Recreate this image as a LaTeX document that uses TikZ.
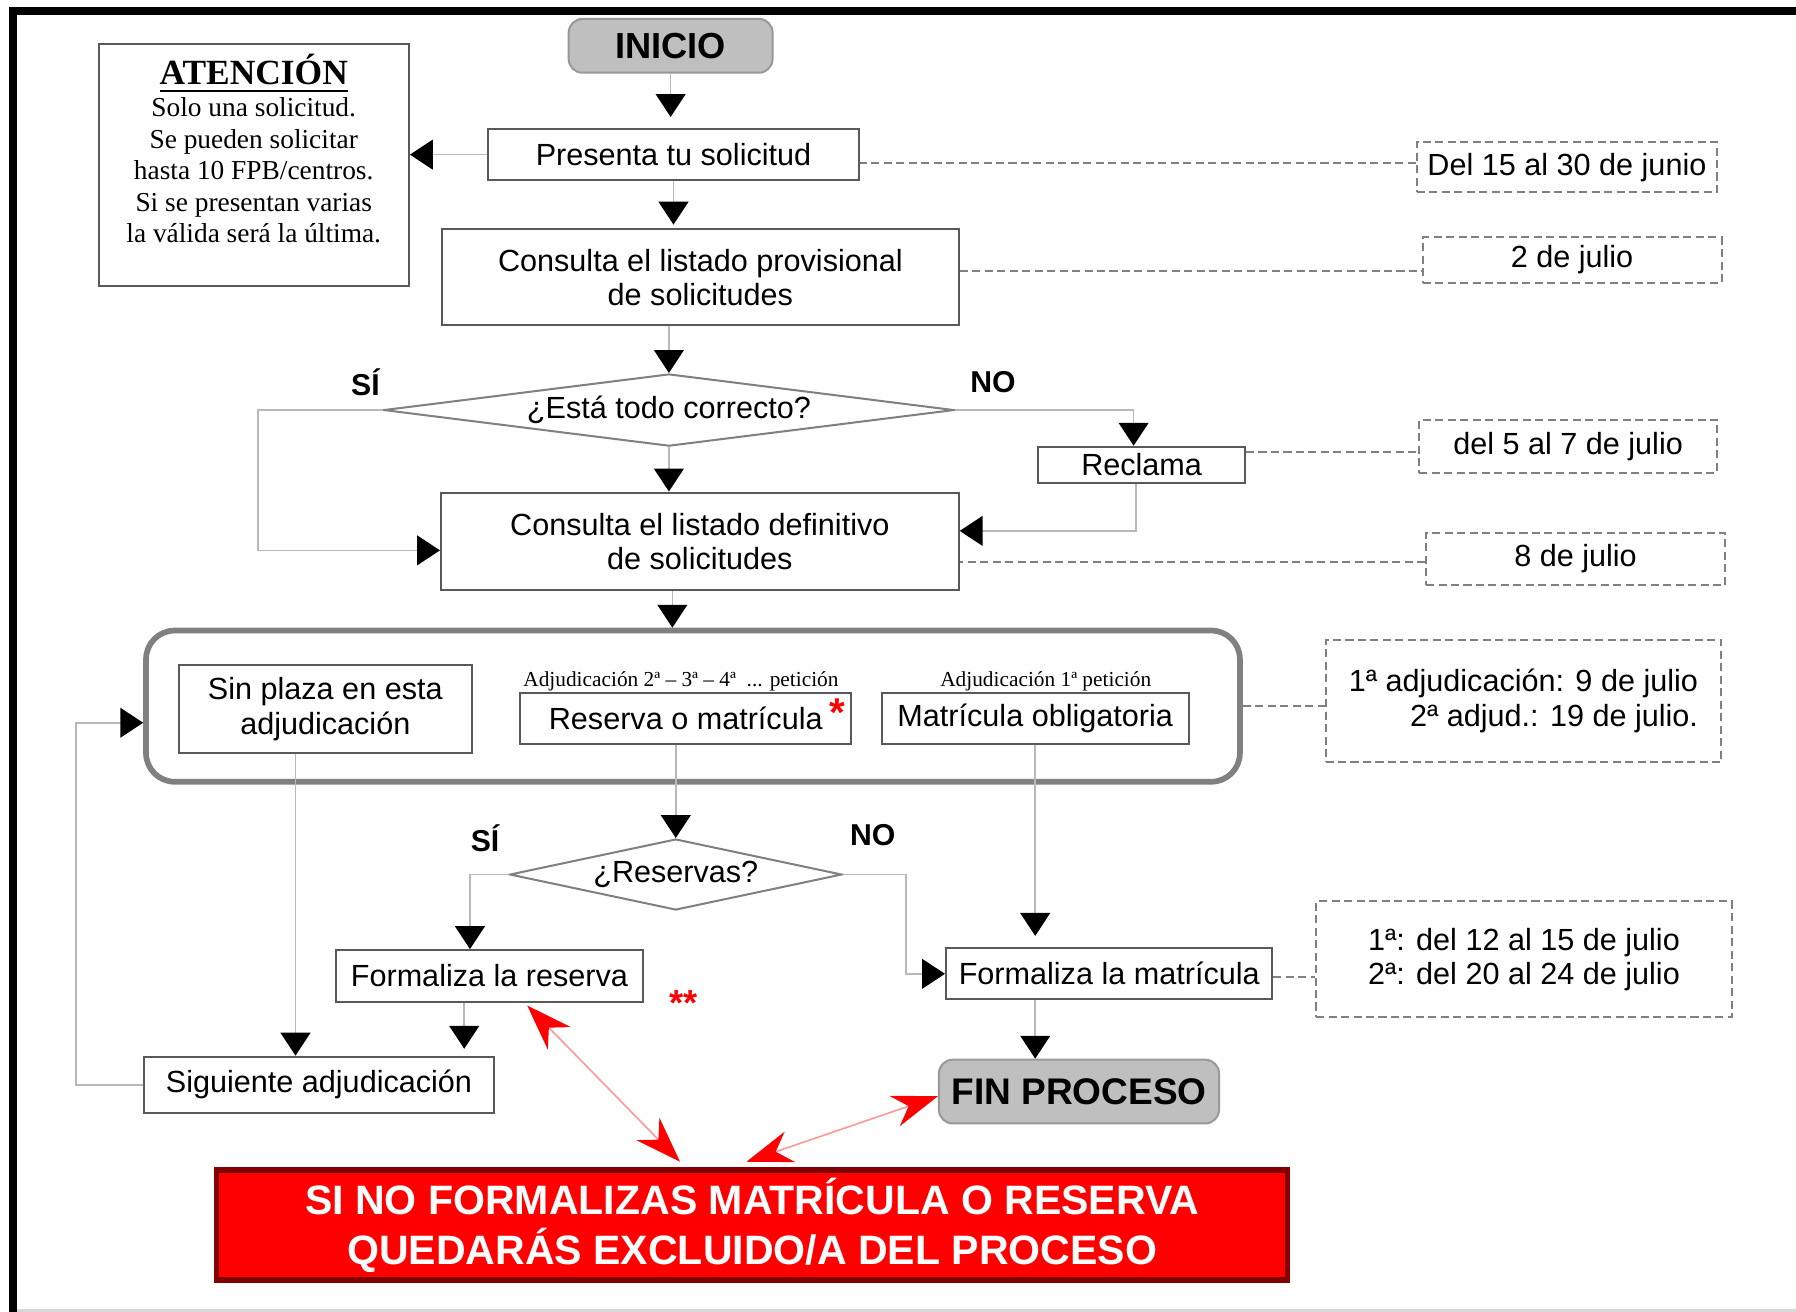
\documentclass[tikz,border=0pt]{standalone}
\usepackage{fontspec}
\setmainfont{Liberation Serif}
\setsansfont{Liberation Sans}
\usetikzlibrary{shapes.geometric,arrows.meta}

\begin{document}
\begin{tikzpicture}[x=0.1mm,y=-0.1mm]
    \tikzstyle{every node}=[font=\sffamily\fontsize{7.6}{8.5}\selectfont, inner sep=0pt]
    \tikzstyle{paso}=[rectangle, draw=black!65, line width=0.5pt, align=center]
    \tikzstyle{terminal}=[rectangle, rounded corners=1.2mm, draw=gray!80, line width=0.5pt, fill=gray!50, font=\sffamily\bfseries\fontsize{9}{10}\selectfont]
    \tikzstyle{pregunta}=[diamond, draw=gray, line width=0.5pt]
    \tikzstyle{fecha}=[rectangle, draw=gray, dash pattern=on 2pt off 1.1pt, line width=0.5pt, align=center]
    \tikzstyle{guia}=[draw=gray, dash pattern=on 2pt off 1.1pt, line width=0.5pt]
    \tikzstyle{flecha}=[draw=gray!55, line width=0.4pt, -{Triangle[width=2.6mm,length=2mm,color=black]}]
    \tikzstyle{alerta}=[draw=red!40, line width=0.4pt, {Stealth[color=red,width=2.8mm,length=4mm,inset=1.3mm]}-{Stealth[color=red,width=2.8mm,length=4mm,inset=1.3mm]}]
    \tikzstyle{rama}=[font=\sffamily\bfseries\fontsize{7.5}{8}\selectfont]
    \tikzstyle{nota}=[font=\rmfamily\fontsize{5.3}{6}\selectfont]
    \useasboundingbox (0,0) rectangle (1568,1145);
    \draw[line width=0.7mm] (11.5,1145) -- (11.5,9.5) -- (1568,9.5);
    \draw[gray!30, line width=0.3mm] (15,1144) -- (1568,1144);

      \node[terminal, minimum width=17.8mm, minimum height=4.7mm] (inicio) at (585.5,40) {INICIO};
      \node[paso, minimum width=32.4mm, minimum height=4.4mm] (presenta) at (588,135) {Presenta tu solicitud};
      \node[paso, minimum width=27.1mm, minimum height=21.2mm] (atencion) at (221.5,144) {};
      \node[font=\rmfamily\fontsize{6.8}{7.85}\selectfont, align=center] (atenciontxt) at ([yshift=1.4mm]atencion.center)
        {{\fontsize{8.8}{10}\selectfont\bfseries\underline{ATENCIÓN}}\\
         Solo una solicitud.\\ Se pueden solicitar\\ hasta 10 FPB/centros.\\ Si se presentan varias\\ la válida será la última.};
      \node[fecha, minimum width=26.2mm, minimum height=4.4mm] (junio) at (1368,146) {Del 15 al 30 de junio};
      \node[paso, minimum width=45.1mm, minimum height=8.4mm] (provisional) at (611.5,242) {Consulta el listado provisional\\de solicitudes};
      \node[fecha, minimum width=26.1mm, minimum height=3.95mm] (julio2) at (1372.5,227) {2 de julio};
      \node[pregunta, aspect=7.9, minimum width=49.8mm, minimum height=6.3mm] (correcto) at (584,358) {¿Está todo correcto?};
      \node[rama] (si1) at (319,334) {SÍ};
      \node[rama] (no1) at (867,334) {NO};
      \node[paso, minimum width=18.05mm, minimum height=3.2mm] (reclama) at (996.7,406) {Reclama};
      \node[fecha, minimum width=26mm, minimum height=4.6mm] (julio57) at (1369,389.6) {del 5 al 7 de julio};
      \node[paso, minimum width=45.2mm, minimum height=8.5mm] (definitivo) at (611,472.5) {Consulta el listado definitivo\\de solicitudes};
      \node[fecha, minimum width=26.1mm, minimum height=4.6mm] (julio8) at (1375.5,488) {8 de julio};
      \node[draw=gray, line width=0.5mm, rounded corners=2.5mm, minimum width=95.5mm, minimum height=13.2mm] (adjud) at (605,616.5) {};
      \node[paso, minimum width=25.6mm, minimum height=7.65mm] (sinplaza) at (284,619) {Sin plaza en esta\\adjudicación};
      \node[nota] (nota2) at (594.5,595) {Adjudicación 2ª – 3ª – 4ª\ \ ... petición};
      \node[paso, minimum width=28.9mm, minimum height=4.45mm] (reserva) at (598.7,627)
        {Reserva o matrícula\rlap{\hspace{0.6mm}\smash{\textcolor{red}{\raisebox{0.2ex}{\fontsize{10}{10}\selectfont\bfseries *}}}}};
      \node[nota] (nota1) at (913,595) {Adjudicación 1ª petición};
      \node[paso, minimum width=26.8mm, minimum height=4.45mm] (obligatoria) at (903.8,627) {Matrícula obligatoria};
      \node[fecha, align=right, minimum width=34.55mm, minimum height=10.7mm] (adjfechas) at (1330,612)
        {1ª adjudicación: 9 de julio\\2ª adjud.: 19 de julio.};
      \node[pregunta, aspect=4.68, minimum width=29mm, minimum height=6.2mm] (reservas) at (590,763.5) {¿Reservas?};
      \node[rama] (si2) at (423.5,732) {SÍ};
      \node[rama] (no2) at (762,729) {NO};
      \node[paso, minimum width=26.74mm, minimum height=4.5mm] (freserva) at (427.3,852) {Formaliza la reserva};
      \node[text=red, font=\sffamily\bfseries\fontsize{9}{9}\selectfont] (dobleast) at (597,876) {**};
      \node[paso, minimum width=28.5mm, minimum height=4.45mm] (fmatricula) at (968.4,850.2) {Formaliza la matrícula};
      \node[fecha, minimum width=36.3mm, minimum height=10.1mm] (formfechas) at (1330.5,837.5)
        {1ª: del 12 al 15 de julio\\2ª: del 20 al 24 de julio};
      \node[paso, minimum width=30.5mm, minimum height=4.9mm] (siguiente) at (278.5,947) {Siguiente adjudicación};
      \node[terminal, minimum width=24.45mm, minimum height=5.57mm, font=\sffamily\bfseries\fontsize{9.2}{10}\selectfont] (fin) at (942,953) {FIN PROCESO};
      \node[draw=red!50!black, line width=0.45mm, fill=red, text=white, align=center,
            font=\sffamily\bfseries\fontsize{10.2}{12.4}\selectfont,
            minimum width=93.5mm, minimum height=9.6mm] (aviso) at (656.7,1069.5)
        {SI NO FORMALIZAS MATRÍCULA O RESERVA\\QUEDARÁS EXCLUIDO/A DEL PROCESO};

      \draw[flecha, shorten >=1mm] (inicio.south) -- (inicio.south |- presenta.north);
      \draw[flecha] (presenta.west) -- (atencion.east |- presenta.west);
      \draw[guia] ([yshift=0.4mm]junio.west) -- ([yshift=0.4mm]junio.west -| presenta.east);
      \draw[flecha, shorten >=0.3mm] (presenta.south) -- (presenta.south |- provisional.north);
      \draw[guia] ([yshift=0.5mm]provisional.east) -- ([yshift=0.5mm]provisional.east -| julio2.west);
      \draw[flecha] (correcto.north |- provisional.south) -- (correcto.north);
      \draw[flecha] (correcto.west) -- ++(-10.9mm,0) |- ([yshift=-0.8mm]definitivo.west);
      \draw[flecha] (correcto.south) -- (correcto.south |- definitivo.north);
      \draw[flecha] (correcto.east) -| ([xshift=-0.7mm]reclama.north);
      \draw[flecha] ([xshift=-0.5mm]reclama.south) |- ([yshift=0.9mm]definitivo.east);
      \draw[guia] ([yshift=1.1mm]reclama.east) -- ([yshift=1.1mm]reclama.east -| julio57.west);
      \draw[guia] ([yshift=-0.3mm]julio8.west) -- ([yshift=-0.3mm]julio8.west -| definitivo.east);
      \draw[flecha] ([xshift=0.3mm]correcto.south |- definitivo.south) -- ([xshift=0.3mm]correcto.south |- adjud.north);
      \draw[guia] (adjud.east) -- (adjud.east -| adjfechas.west);
      \draw[flecha] (siguiente.west) -- ++(-5.9mm,0) |- ([yshift=-1.45mm]adjud.west);
      \draw[flecha] ([xshift=-2.6mm]sinplaza.south) -- ([xshift=-2.6mm]sinplaza.south |- siguiente.north);
      \draw[flecha] (reservas.north |- reserva.south) -- (reservas.north);
      \draw[flecha] (reservas.west) -| ([xshift=-1.7mm]freserva.north);
      \draw[flecha, shorten >=0.6mm] ([xshift=-2.2mm]freserva.south) -- ([xshift=-2.2mm]freserva.south |- siguiente.north);
      \draw[flecha] (reservas.east) -- ++(5.5mm,0) |- (fmatricula.west);
      \draw[flecha, shorten >=1mm] (obligatoria.south) -- (obligatoria.south |- fmatricula.north);
      \draw[flecha] (obligatoria.south |- fmatricula.south) -- (obligatoria.south |- fin.north);
      \draw[guia] ([yshift=-0.25mm]fmatricula.east) -- ([yshift=-0.25mm]fmatricula.east -| formfechas.west);
      \draw[alerta] ([xshift=3.3mm,yshift=-0.25mm]freserva.south) -- ([xshift=-6.3mm,yshift=0.5mm]aviso.north);
      \draw[alerta] ([xshift=-0.5mm,yshift=0.5mm]aviso.north) -- ([yshift=-0.4mm]fin.west);
\end{tikzpicture}
\end{document}
